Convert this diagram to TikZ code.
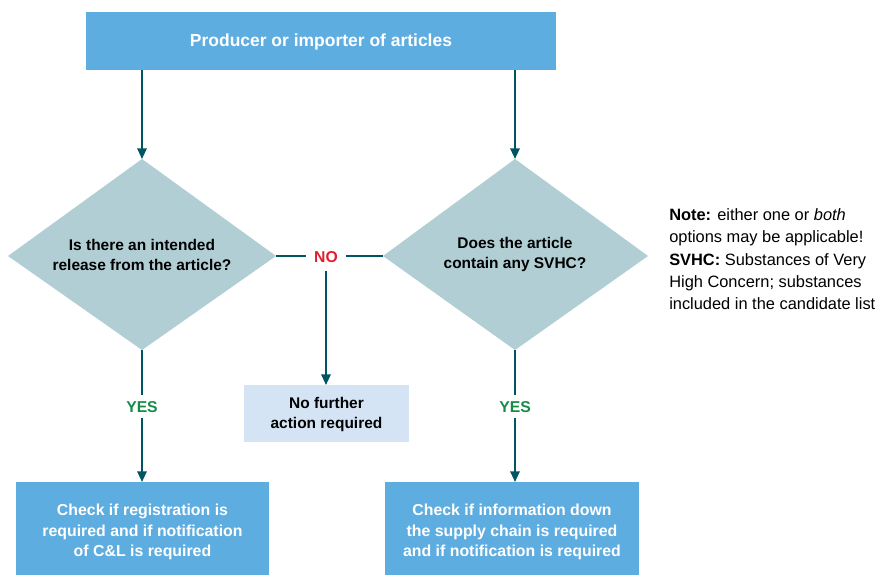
\documentclass[tikz,border=0pt]{standalone}
\usepackage{fontspec}
\setmainfont{Liberation Sans}
\usetikzlibrary{arrows.meta}
\definecolor{boxblue}{RGB}{93,173,224}
\definecolor{diam}{RGB}{176,206,212}
\definecolor{pale}{RGB}{212,228,245}
\definecolor{teal}{RGB}{0,85,100}
\definecolor{yesgreen}{RGB}{20,140,70}
\definecolor{nored}{RGB}{225,30,45}
\tikzset{
  bluebox/.style={fill=boxblue, draw=none, text=white, font=\bfseries\fontsize{11.9}{15.5}\selectfont, align=center},
  diabox/.style={fill=diam, draw=none},
  conn/.style={draw=teal, line width=1.5pt},
  arr/.style={conn, -{Triangle[length=8pt,width=7pt]}},
  lbl/.style={font=\bfseries\fontsize{11.8}{12}\selectfont},
  qtext/.style={font=\bfseries\fontsize{11.6}{15}\selectfont, align=center},
}
\begin{document}
\begin{tikzpicture}[x=0.75pt,y=-0.75pt]
\useasboundingbox (0,0) rectangle (881,575);
% top box
\fill[boxblue] (86,12) rectangle (556,70);
\node[bluebox, font=\bfseries\fontsize{13.1}{15}\selectfont] (top) at (321,41.5) {Producer or importer of articles};
% diamonds
\fill[diabox] (8,256) -- (142,159) -- (276,256) -- (142,350) -- cycle;
\fill[diabox] (383,256) -- (515,159) -- (648,256) -- (515,350) -- cycle;
\node[qtext] (q1) at (142,254.5) {Is there an intended\\release from the article?};
\node[qtext] (q2) at (515,254.5) {Does the article\\contain any SVHC?};
\coordinate (q1t) at (142,159);
\coordinate (q2t) at (515,159);
\coordinate (q1r) at (276,256);
\coordinate (q2l) at (383,256);
\coordinate (q1b) at (142,350);
\coordinate (q2b) at (515,350);
\coordinate (t1) at (142,70);
\coordinate (t2) at (515,70);
% arrows from top
\draw[arr] (t1) -- (q1t);
\draw[arr] (t2) -- (q2t);
% NO
\node[lbl, text=nored, inner sep=0pt] (no) at (326,257.5) {NO};
\draw[conn] (q1r) -- (306,256);
\draw[conn] (346,256) -- (q2l);
% no further box
\fill[pale] (244,385) rectangle (409,442);
\node[qtext] (nf) at (326.5,414) {No further\\action required};
\coordinate (nft) at (326,385);
\draw[arr] (326,271) -- (nft);
% YES labels
\node[lbl, text=yesgreen] (y1) at (142,407) {YES};
\node[lbl, text=yesgreen] (y2) at (515,407) {YES};
% bottom boxes
\fill[boxblue] (16,482) rectangle (269,575);
\fill[boxblue] (385,482) rectangle (639,575);
\node[bluebox] (b1) at (142.5,532) {Check if registration is\\required and if notification\\of C\&L is required};
\node[bluebox] (b2) at (512,532) {Check if information down\\the supply chain is required\\and if notification is required};
\coordinate (b1t) at (142,482);
\coordinate (b2t) at (515,482);
\draw[conn] (q1b) -- (142,395);
\draw[arr] (142,418) -- (b1t);
\draw[conn] (q2b) -- (515,395);
\draw[arr] (515,418) -- (b2t);
% note
\node[anchor=north west, align=left, inner sep=0pt, font=\fontsize{12.3}{16.5}\selectfont] (note) at (669,208.5)
  {\textbf{Note:} either one or \textit{both}\\options may be applicable!\\[0.5pt]\textbf{SVHC:} Substances of Very\\High Concern; substances\\included in the candidate list};
\end{tikzpicture}
\end{document}
